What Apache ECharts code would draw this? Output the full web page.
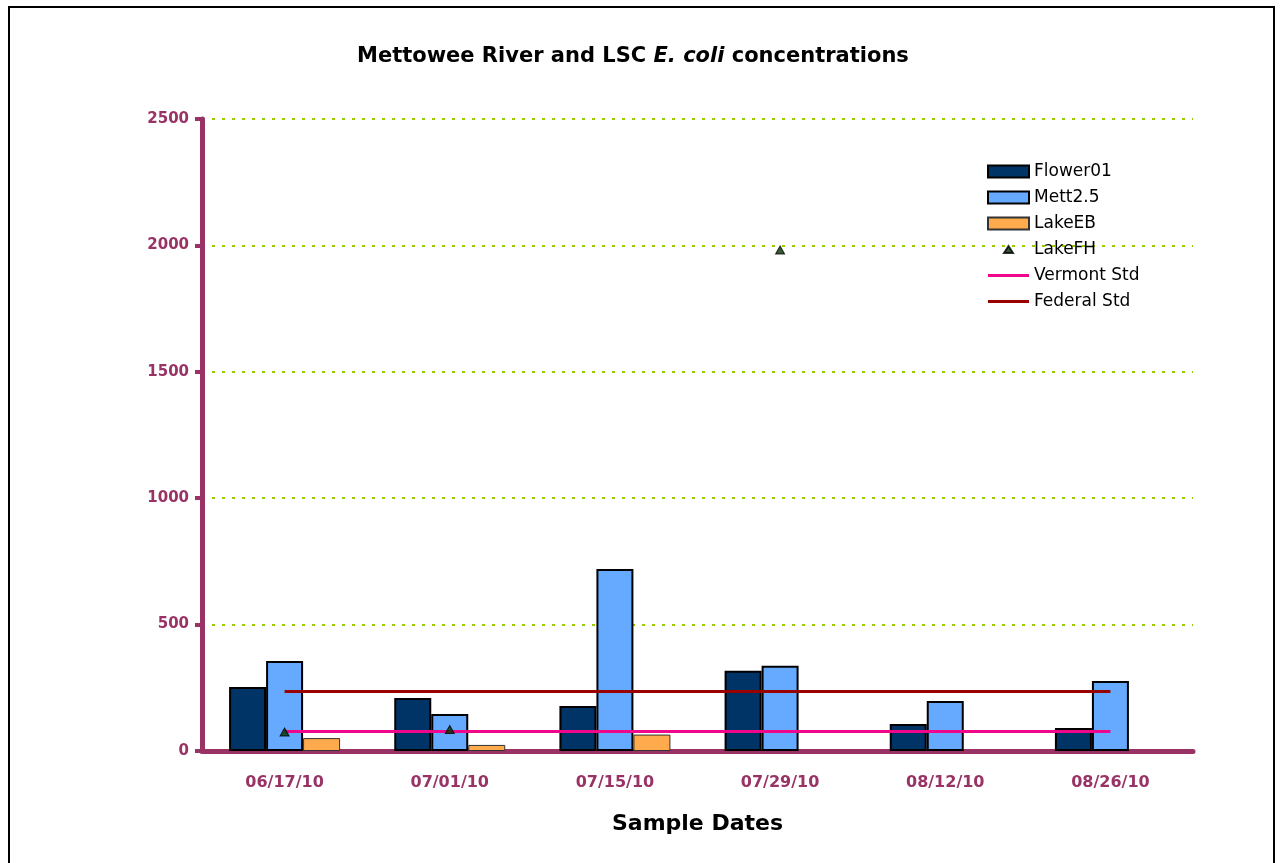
<!DOCTYPE html>
<html>
<head>
<meta charset="utf-8">
<script src="https://cdn.jsdelivr.net/npm/echarts@6/dist/echarts.min.js"></script>
<style>
  html, body { margin: 0; padding: 0; background: #fff; }
  #frame { position: absolute; left: 8px; top: 6px; width: 1267px; height: 870px; border: 2px solid #000; box-sizing: border-box; }
  #chart { position: absolute; left: 0; top: 0; width: 1283px; height: 863px; }
</style>
</head>
<body>
<div id="frame"></div>
<div id="chart"></div>
<script>
// Sample dates along the x axis
const sampleDates = ['06/17/10', '07/01/10', '07/15/10', '07/29/10', '08/12/10', '08/26/10'];

// E. coli counts per site
const flower01 = [253, 210, 178, 317, 107, 91];
const mett25 = [356, 146, 720, 337, 198, 277];
const lakeEB = [51, 24, 65, null, null, null];
const lakeFH = [75, 85, null, 1982, null, null];

// Water quality standards
const vermontStd = [77, 77, 77, 77, 77, 77];
const federalStd = [235, 235, 235, 235, 235, 235];

// Value axis ticks
const yTicks = [0, 500, 1000, 1500, 2000, 2500];

const axisColor = '#993366';
const tickFont = { fontFamily: 'DejaVu Sans', fontWeight: 'bold', color: axisColor };

// Legend icons: a small triangle centred in a 12x12 box, and a 3px line across a 41x12 box
// (the lone moves fix the box size)
const smallTriangle = 'path://M0 0M12 12M1.5 9.5L6 2.5L10.5 9.5Z';
const lineIcon = 'path://M0 0M41 12M0 4.5H41V7.5H0Z';

const chart = echarts.init(document.getElementById('chart'), null, { renderer: 'canvas' });

chart.setOption({
  animation: false,
  backgroundColor: 'transparent',
  title: {
    text: '{n|Mettowee River and LSC }{i|E. coli}{n| concentrations}',
    left: 357,
    top: 46,
    padding: 0,
    textStyle: {
      rich: {
        n: { fontFamily: 'DejaVu Sans', fontWeight: 'bold', fontSize: 21, color: '#000' },
        i: { fontFamily: 'DejaVu Sans', fontWeight: 'bold', fontStyle: 'italic', fontSize: 21, color: '#000' }
      }
    }
  },
  legend: {
    orient: 'vertical',
    left: 987,
    top: 162,
    padding: 0,
    itemGap: 7,
    itemWidth: 41,
    itemHeight: 12,
    textStyle: { fontFamily: 'DejaVu Sans', fontSize: 17, lineHeight: 19, color: '#000' },
    data: [
      { name: 'Flower01', icon: 'rect' },
      { name: 'Mett2.5', icon: 'rect' },
      { name: 'LakeEB', icon: 'rect' },
      { name: 'LakeFH', icon: smallTriangle },
      { name: 'Vermont Std', icon: lineIcon, itemStyle: { color: '#F0068A', borderWidth: 0 } },
      { name: 'Federal Std', icon: lineIcon, itemStyle: { color: '#990000', borderWidth: 0 } }
    ]
  },
  grid: { left: 202, right: 90, top: 119, bottom: 112, containLabel: false },
  xAxis: {
    type: 'category',
    data: sampleDates,
    name: 'Sample Dates',
    nameLocation: 'middle',
    nameGap: 62,
    nameTextStyle: { fontFamily: 'DejaVu Sans', fontWeight: 'bold', fontSize: 22, color: '#000' },
    axisLine: { lineStyle: { color: axisColor, width: 5 } },
    axisTick: { show: false },
    axisLabel: Object.assign({ margin: 24, fontSize: 16 }, tickFont)
  },
  yAxis: {
    type: 'value',
    min: 0,
    max: 2500,
    interval: 500,
    axisLine: { show: true, lineStyle: { color: axisColor, width: 5 } },
    axisTick: { show: true, inside: false, length: 7, lineStyle: { color: axisColor, width: 4 } },
    axisLabel: Object.assign({
      margin: 13,
      fontSize: 15,
      formatter: v => (yTicks.indexOf(v) >= 0 ? String(v) : '')
    }, tickFont),
    splitLine: { show: true, lineStyle: { color: '#99CC00', type: [3, 7], width: 2 } }
  },
  series: [
    {
      name: 'Flower01', type: 'bar', data: flower01,
      barWidth: 37, barGap: '0%',
      itemStyle: { color: '#003366', borderColor: '#000', borderWidth: 2 }
    },
    {
      name: 'Mett2.5', type: 'bar', data: mett25,
      barWidth: 37, barGap: '0%',
      itemStyle: { color: '#66AAFF', borderColor: '#000', borderWidth: 2 }
    },
    {
      name: 'LakeEB', type: 'bar', data: lakeEB,
      barWidth: 37, barGap: '0%',
      itemStyle: { color: '#FFAA4D', borderColor: '#333', borderWidth: 1 }
    },
    {
      name: 'LakeFH', type: 'scatter', data: lakeFH,
      symbol: 'triangle', symbolSize: [9, 8], z: 5,
      itemStyle: { color: '#003300', borderColor: '#000', borderWidth: 1 }
    },
    {
      name: 'Vermont Std', type: 'line', data: vermontStd,
      symbol: 'none', z: 4,
      lineStyle: { color: '#F0068A', width: 3 },
      itemStyle: { color: '#F0068A' }
    },
    {
      name: 'Federal Std', type: 'line', data: federalStd,
      symbol: 'none', z: 4,
      lineStyle: { color: '#990000', width: 3 },
      itemStyle: { color: '#990000' }
    }
  ]
});
</script>
</body>
</html>
